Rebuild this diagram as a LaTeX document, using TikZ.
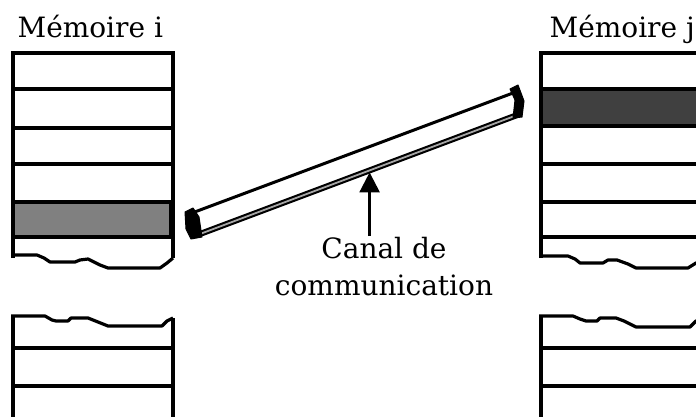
\documentclass[tikz,border=0pt]{standalone}
\usepackage{fontspec}
\setmainfont{DejaVu Serif}
\usetikzlibrary{arrows.meta, calc}

\begin{document}
\begin{tikzpicture}[x=1pt, y=-1pt, line width=3.2pt]
      \tikzset{cell line/.style={line width=3.2pt},
        mem title/.style={anchor=base west, inner sep=0pt, font=\fontsize{28}{37}\selectfont},
        bar cap/.style={fill=black, draw=black, line width=1pt, line join=round}
      }
      \clip (0,0) rectangle (696,417);
      \node [mem title] (memi) at (16,38) {Mémoire i};
      \node [mem title] (memj) at (548,38) {Mémoire j};
      % memoire i
      \draw [fill=gray] (13,202) rectangle (171,237);
      \draw [cell line] (13,258) -- (13,53) -- (173,53) -- (173,258);
      \foreach \y in {89,128,164}
        \draw [cell line] (13,\y) -- (173,\y);
      \draw [cell line, line join=round] (11,255) -- (37,255) -- (44,258) -- (50,262) -- (75,262) -- (80,260) -- (88,259)
        -- (100,265) -- (108,268) -- (160,268) -- (167,263) -- (173,258);
      \draw [cell line, line join=round] (11,316) -- (45,316) -- (52,320) -- (56,321) -- (68,321) -- (71,318) -- (88,318)
        -- (98,322) -- (108,326) -- (162,326) -- (167,321) -- (173,318);
      \draw [cell line] (13,316) -- (13,420) (173,318) -- (173,420);
      \foreach \y in {348,386}
        \draw [cell line] (13,\y) -- (173,\y);
      % memoire j
      \draw [fill=black!75] (541,89) rectangle (720,126);
      \draw [cell line] (541,258) -- (541,53) -- (720,53);
      \foreach \y in {164,202,237}
        \draw [cell line] (541,\y) -- (720,\y);
      \draw [cell line, line join=round] (539,256) -- (568,256) -- (575,259) -- (580,263) -- (603,263) -- (608,260) -- (617,260)
        -- (628,264) -- (636,268) -- (688,268) -- (696,263) -- (720,258);
      \draw [cell line, line join=round] (539,316) -- (573,316) -- (580,319) -- (586,321) -- (597,321) -- (600,318) -- (616,318)
        -- (624,321) -- (636,327) -- (690,327) -- (696,321) -- (720,318);
      \draw [cell line] (541,316) -- (541,420);
      \foreach \y in {348,386}
        \draw [cell line] (541,\y) -- (720,\y);
      % canal
      \coordinate (A) at (192,213);
      \coordinate (B) at (513,93);
      \coordinate (A1) at (200,234);
      \coordinate (B1) at (520,114);
      \draw [line width=3pt] (A) -- (B);
      \draw [line width=6pt] (A1) -- (B1);
      \draw [line width=1.8pt, gray!70] (A1) -- (B1);
      \filldraw [bar cap] (185,212) -- (193,208) -- (199,217) -- (202,237) -- (191,239) -- (186,229) -- cycle;
      \filldraw [bar cap] (510,89) -- (518,85) -- (524,101) -- (522,117) -- (513,118) -- (515,100) -- cycle;
      \coordinate (tip) at ($(A1)!0.53!(B1)$);
      \node [align=center, anchor=north, inner sep=0pt, font=\fontsize{28}{37}\selectfont] (canal) at (384,236)
        {Canal de\\communication};
      \draw [line width=2.6pt, -{Triangle[length=20pt, width=20pt]}] (tip |- canal.north) -- ($(tip)+(0,2)$);
\end{tikzpicture}
\end{document}
